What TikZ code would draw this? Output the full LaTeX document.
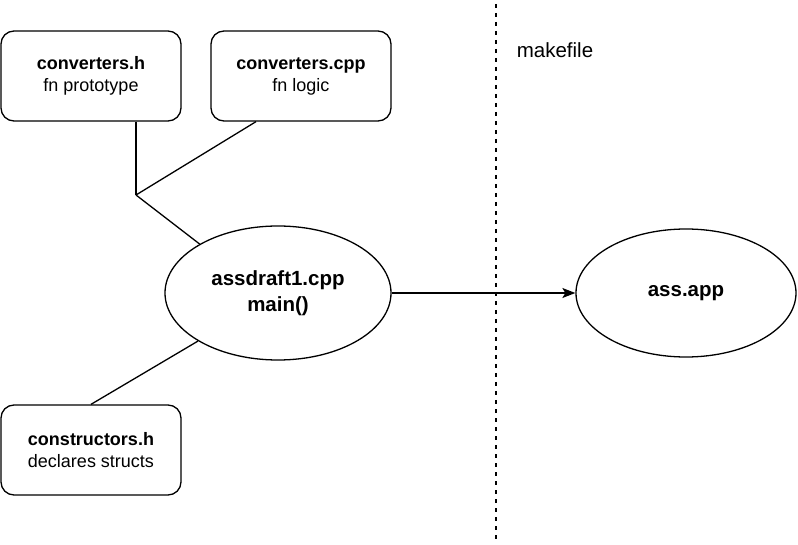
\documentclass[tikz,border=0pt]{standalone}
\usepackage{fontspec}
\setmainfont{Liberation Sans}
\usetikzlibrary{shapes.geometric,arrows.meta}
\tikzset{
  filebox/.style={draw, line width=1.3pt, rounded corners=13pt, minimum width=180pt, minimum height=90pt, align=center, inner sep=0pt, font=\fontsize{18}{22}\selectfont},
  oval/.style={draw, ellipse, line width=1.3pt, align=center, inner sep=0pt, font=\fontsize{20.5}{26}\selectfont\bfseries},
  link/.style={line width=1.3pt},
  flow/.style={line width=1.3pt, -{Stealth[length=13pt,width=10pt,inset=3pt]}},
  divider/.style={line width=1.3pt, dash pattern=on 4pt off 5pt}
}
\begin{document}
\begin{tikzpicture}[x=1pt,y=-1pt]
\useasboundingbox (0,0) rectangle (798,545);
\node[filebox] (ch) at (91,76) {\textbf{converters.h}\\fn prototype};
\node[filebox] (cc) at (301,76) {\textbf{converters.cpp}\\fn logic};
\node[filebox] (cons) at (91,450) {\textbf{constructors.h}\\declares structs};
\node[oval, minimum width=226pt, minimum height=134pt] (main) at (278,293) {assdraft1.cpp\\main()};
\node[oval, minimum width=220pt, minimum height=128pt] (app) at (686,293) {ass.app};
\node[font=\fontsize{20.5}{24}\selectfont] (mk) at (555,50) {makefile};
\coordinate (J) at (136,195);
\coordinate (dtop) at (496,4);
\coordinate (dbot) at (496,543);
\draw[divider] (dtop) -- (dbot);
\draw[link] (ch.south -| J) -- (J);
\draw[link] ([xshift=-45pt]cc.south) -- (J);
\draw[link] (J) -- (main.148);
\draw[link] (main.211) -- (cons.north);
\draw[flow] (main.east) -- (app.west);
\end{tikzpicture}
\end{document}
